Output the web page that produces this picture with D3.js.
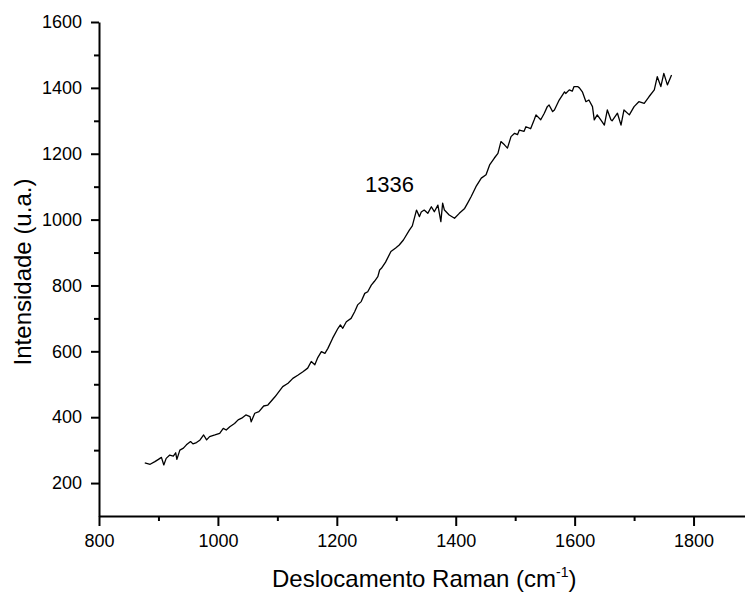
<!DOCTYPE html>
<html>
<head>
<meta charset="utf-8">
<script src="https://cdn.jsdelivr.net/npm/d3@7"></script>
<style>
  html, body { margin: 0; padding: 0; background: #fff; }
  svg { display: block; font-family: "Liberation Sans", Arial, sans-serif; }
</style>
</head>
<body>
<svg id="chart" width="745" height="592"></svg>
<script>
// Raman shift (cm^-1)
const ramanShift = [877,886,894,900,905,909,913,919,925,929,931,936,942,947,954,958,964,970,976,981,986,995,1003,1009,1014,1020,1028,1034,1040,1047,1054,1056,1062,1069,1077,1084,1096,1109,1118,1126,1135,1143,1151,1157,1163,1168,1174,1180,1185,1193,1202,1206,1210,1216,1224,1230,1235,1241,1247,1252,1258,1263,1269,1272,1275,1282,1291,1299,1305,1312,1322,1327,1334,1339,1342,1347,1353,1359,1364,1370,1375,1378,1381,1389,1398,1406,1415,1420,1426,1434,1443,1451,1457,1465,1471,1476,1482,1487,1493,1499,1504,1507,1515,1518,1526,1532,1535,1543,1549,1554,1557,1563,1566,1574,1583,1585,1591,1596,1599,1605,1608,1613,1619,1624,1630,1633,1638,1644,1650,1655,1661,1663,1672,1678,1683,1692,1700,1708,1717,1725,1734,1739,1745,1750,1756,1763];
// Intensity (u.a.)
const intensity = [261,257,265,272,278,255,275,285,282,292,272,300,306,316,326,319,323,331,346,331,341,346,351,366,361,371,381,392,397,407,402,386,412,417,434,437,462,493,503,518,528,538,549,569,559,581,599,594,609,640,670,680,670,690,700,720,741,751,776,781,801,812,827,847,852,871,903,914,923,938,968,981,1029,1009,1023,1029,1019,1039,1024,1044,994,1050,1029,1014,1004,1019,1034,1050,1070,1100,1126,1136,1166,1187,1201,1237,1227,1217,1252,1262,1258,1272,1268,1282,1276,1303,1318,1303,1323,1343,1348,1328,1333,1363,1388,1383,1394,1390,1404,1404,1400,1388,1358,1363,1343,1303,1318,1303,1287,1333,1303,1300,1323,1287,1333,1318,1343,1358,1353,1373,1394,1434,1404,1444,1409,1439];

const xMajorTicks = [800,1000,1200,1400,1600,1800];
const xMinorTicks = [900,1100,1300,1500,1700];
const yMajorTicks = [200,400,600,800,1000,1200,1400,1600];
const yMinorTicks = [300,500,700,900,1100,1300,1500];
const peakLabel = "1336";
const xTitle = "Deslocamento Raman (cm";
const yTitle = "Intensidade (u.a.)";

const svg = d3.select("#chart");
const x = d3.scaleLinear().domain([800, 1900]).range([99, 753]);
const y = d3.scaleLinear().domain([100, 1600]).range([516, 22]);
const fmt = d3.format("d");

// Line
const line = d3.line().x((d, i) => x(ramanShift[i])).y(d => y(d));
svg.append("path")
  .datum(intensity)
  .attr("d", line)
  .attr("fill", "none")
  .attr("stroke", "#000")
  .attr("stroke-width", 1.3)
  .attr("stroke-linejoin", "round");

// X axis
const gx = svg.append("g").attr("transform", "translate(0,516)");
gx.call(d3.axisBottom(x).tickValues(xMajorTicks).tickFormat(fmt).tickSize(10).tickSizeOuter(0).tickPadding(8));
gx.append("g").call(d3.axisBottom(x).tickValues(xMinorTicks).tickSize(5).tickFormat(""))
  .select(".domain").remove();
gx.selectAll(".domain").attr("stroke", "#000").attr("stroke-width", 2);
gx.selectAll(".tick line").attr("stroke", "#000").attr("stroke-width", 2);
gx.selectAll(".tick text").attr("font-size", 18).attr("fill", "#000")
  .attr("font-family", "Liberation Sans, Arial, sans-serif");

// Y axis
const gy = svg.append("g").attr("transform", "translate(99,0)");
gy.call(d3.axisLeft(y).tickValues(yMajorTicks).tickFormat(fmt).tickSize(8).tickSizeOuter(0).tickPadding(9));
gy.append("g").call(d3.axisLeft(y).tickValues(yMinorTicks).tickSize(5).tickFormat(""))
  .select(".domain").remove();
gy.selectAll(".domain").attr("stroke", "#000").attr("stroke-width", 2);
gy.selectAll(".tick line").attr("stroke", "#000").attr("stroke-width", 2);
gy.selectAll(".tick text").attr("font-size", 18).attr("fill", "#000")
  .attr("font-family", "Liberation Sans, Arial, sans-serif");

// Axis titles
const xt = svg.append("text")
  .attr("x", 272).attr("y", 587)
  .attr("font-size", 24).attr("fill", "#000");
xt.append("tspan").text(xTitle);
xt.append("tspan").attr("font-size", 14).attr("dy", -10).text("-1");
xt.append("tspan").attr("dy", 10).text(")");

svg.append("text")
  .attr("transform", "translate(31,272) rotate(-90)")
  .attr("text-anchor", "middle")
  .attr("font-size", 24).attr("fill", "#000")
  .text(yTitle);

// Peak annotation
svg.append("text")
  .attr("x", 365).attr("y", 192)
  .attr("font-size", 22).attr("fill", "#000")
  .text(peakLabel);
</script>
</body>
</html>
